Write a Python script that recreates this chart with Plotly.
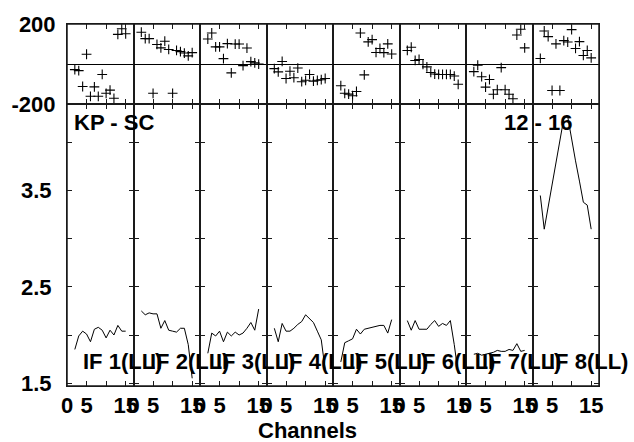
import plotly.graph_objects as go

# Channel axis and tick labelling
channels = list(range(2, 16))
x_tickvals = [0, 5, 10, 15]
x_ticktext = ["0", "5", "", "15"]

phase_tickvals = [-200, 0, 200]
phase_ticktext = ["-200", "", "200"]
amp_tickvals = [1.5, 2.0, 2.5, 3.0, 3.5, 4.0]
amp_ticktext = ["1.5", "", "2.5", "", "3.5", ""]

if_labels = ["IF 1(LL)", "IF 2(LL)", "IF 3(LL)", "IF 4(LL)",
             "IF 5(LL)", "IF 6(LL)", "IF 7(LL)", "IF 8(LL)"]

# Phase (degrees) per channel, one list per IF
phase_if1 = [-28, -33, -112, 49, -161, -114, -161, -52, -146, -130, -171, 148, 176, 151]
phase_if2 = [159, 127, 127, -146, 98, 81, 114, 73, -146, 68, 62, 55, 41, 57]
phase_if3 = [125, 155, 86, 86, 27, 102, -44, 100, 100, -8, 80, 12, 6, 0]
phase_if4 = [-23, -39, 13, -72, -36, -68, -20, -88, -81, -52, -85, -81, -78, -72]
phase_if5 = [-108, -146, -150, -158, -137, 155, -54, 111, 122, 58, 78, 57, 101, 50]
phase_if6 = [68, 84, 18, 23, -2, -14, -42, -50, -52, -52, -52, -52, -60, -101]
phase_if7 = [-38, -6, -63, -115, -77, -151, -128, -18, -128, -151, -173, 145, 174, 81]
phase_if8 = [28, 165, 137, -132, 101, -132, 117, 110, 172, 78, 112, 43, 68, 31]

# Amplitude per channel, one list per IF
amp_if1 = [1.85, 1.99, 2.04, 2.01, 1.93, 2.06, 2.08, 2.05, 1.97, 2.05, 2.00, 2.10, 2.04, 2.04]
amp_if2 = [2.25, 2.21, 2.23, 2.22, 2.22, 2.07, 2.15, 2.05, 2.04, 2.03, 2.07, 2.07, 1.90, 1.55]
amp_if3 = [1.81, 2.02, 1.99, 2.04, 1.93, 2.03, 1.99, 2.03, 2.00, 2.02, 2.07, 2.13, 2.05, 2.27]
amp_if4 = [2.07, 1.93, 2.12, 2.04, 2.04, 2.07, 2.11, 2.14, 2.21, 2.17, 2.13, 2.04, 1.95, 1.64]
amp_if5 = [1.72, 1.92, 1.94, 1.96, 2.06, 2.01, 2.06, 2.07, 2.08, 2.09, 2.10, 2.10, 2.02, 2.16]
amp_if6 = [2.15, 2.05, 2.15, 2.06, 2.06, 2.06, 2.11, 2.15, 2.09, 2.12, 2.10, 2.15, 1.90, 1.60]
amp_if7 = [1.80, 1.81, 1.79, 1.80, 1.81, 1.82, 1.84, 1.83, 1.83, 1.85, 1.84, 1.91, 1.83, 1.84]
amp_if8 = [3.45, 3.10, 3.33, 3.55, 3.78, 4.01, 4.25, 4.27, 4.03, 3.81, 3.60, 3.38, 3.35, 3.10]

phases = [phase_if1, phase_if2, phase_if3, phase_if4,
          phase_if5, phase_if6, phase_if7, phase_if8]
amps = [amp_if1, amp_if2, amp_if3, amp_if4,
        amp_if5, amp_if6, amp_if7, amp_if8]

W, H = 634, 442
ML, MR, MT, MB = 67, 35, 20, 56
PW, PH = W - ML - MR, H - MT - MB
split = 1 - 81 / PH  # boundary between phase strip and amplitude panel

FONT = "Liberation Sans, Arial, Helvetica, sans-serif"
bold = dict(family=FONT, size=22, color="black", weight="bold")
AXCOL = "#1a1a1a"


def px_x(x):
    return (x - ML) / PW


def px_y(y):
    return 1 - (y - MT) / PH


fig = go.Figure()
layout = {}
n = len(phases)
for i in range(n):
    d0, d1 = i / n, (i + 1) / n
    kp, ka = 2 * i + 1, 2 * i + 2
    common_x = dict(domain=[d0, d1], range=[0, 17], tickvals=x_tickvals,
                    ticktext=x_ticktext, ticks="inside", ticklen=5,
                    tickcolor=AXCOL, showline=True, linecolor=AXCOL,
                    linewidth=1, mirror="ticks", showgrid=False,
                    zeroline=False, tickfont=bold)
    layout[f"xaxis{kp}"] = dict(common_x, anchor=f"y{kp}", showticklabels=False)
    layout[f"xaxis{ka}"] = dict(common_x, anchor=f"y{ka}", showticklabels=True)
    layout[f"yaxis{kp}"] = dict(domain=[split, 1], range=[-200, 200],
                                anchor=f"x{kp}", tickvals=phase_tickvals,
                                ticktext=phase_ticktext, ticks="",
                                showline=True, linecolor=AXCOL, linewidth=1,
                                mirror=True, showgrid=False, zeroline=True,
                                zerolinecolor="black", zerolinewidth=1,
                                showticklabels=(i == 0), tickfont=bold,
                                ticklabelstandoff=6)
    layout[f"yaxis{ka}"] = dict(domain=[0, split], range=[1.47, 4.40],
                                anchor=f"x{ka}", tickvals=amp_tickvals,
                                ticktext=amp_ticktext, ticks="inside",
                                ticklen=5, tickcolor=AXCOL, showline=True,
                                linecolor=AXCOL, linewidth=1,
                                mirror="ticks", showgrid=False, zeroline=False,
                                showticklabels=(i == 0), tickfont=bold,
                                ticklabelstandoff=10)

    fig.add_trace(go.Scatter(x=channels, y=phases[i], mode="markers",
                             xaxis=f"x{kp}", yaxis=f"y{kp}",
                             marker=dict(symbol="cross-thin", size=7,
                                         line=dict(width=1.1, color="black")),
                             showlegend=False))
    fig.add_trace(go.Scatter(x=channels, y=amps[i], mode="lines",
                             xaxis=f"x{ka}", yaxis=f"y{ka}",
                             line=dict(width=1, color="black"),
                             showlegend=False))

annotations = []
panel_w = PW / n
for i, lab in enumerate(if_labels):
    annotations.append(dict(text=lab, xref="paper", yref="paper",
                            x=px_x(ML + panel_w * i + 14), y=px_y(361),
                            xanchor="left", yanchor="middle",
                            showarrow=False, font=bold))
annotations.append(dict(text="KP - SC", xref="paper", yref="paper",
                        x=px_x(72), y=px_y(120), xanchor="left",
                        yanchor="middle", showarrow=False, font=bold))
annotations.append(dict(text="12 - 16", xref="paper", yref="paper",
                        x=px_x(575), y=px_y(120), xanchor="right",
                        yanchor="middle", showarrow=False, font=bold))
annotations.append(dict(text="Channels", xref="paper", yref="paper",
                        x=px_x(307), y=px_y(431), xanchor="center",
                        yanchor="middle", showarrow=False, font=bold))

# Heavier outer frame around the whole panel grid
frame = dict(type="rect", xref="paper", yref="paper", x0=0, x1=1, y0=0, y1=1,
             line=dict(color=AXCOL, width=1.5), layer="above")

fig.update_layout(width=W, height=H, autosize=False,
                  margin=dict(l=ML, r=MR, t=MT, b=MB, pad=0),
                  paper_bgcolor="white", plot_bgcolor="white",
                  annotations=annotations, shapes=[frame], **layout)

fig.write_html("out.html")
